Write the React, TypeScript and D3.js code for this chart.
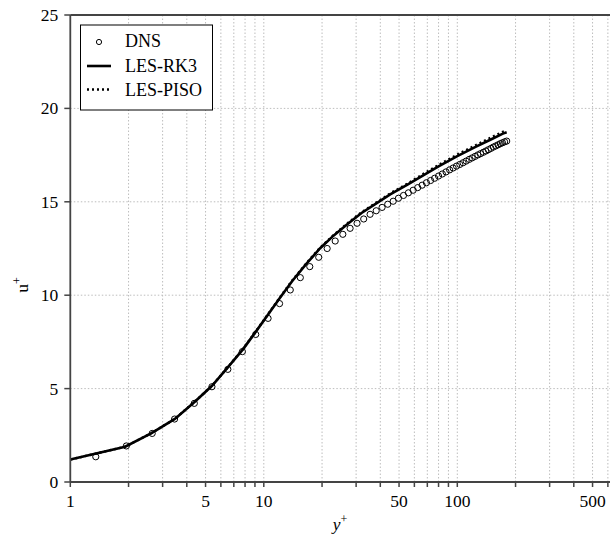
import React from "react";
import * as d3 from "d3";

// DNS data (y+, u+)
const dnsY = [1.354, 1.948, 2.65, 3.459, 4.374, 5.394, 6.52, 7.751, 9.085, 10.522, 12.061, 13.702, 15.442, 17.282, 19.22, 21.254, 23.384, 25.609, 27.926, 30.335, 32.835, 35.423, 38.098, 40.858, 43.702, 46.629, 49.636, 52.721, 55.883, 59.119, 62.429, 65.809, 69.258, 72.774, 76.355, 79.997, 83.7, 87.461, 91.278, 95.149, 99.07, 103.04, 107.057, 111.117, 115.219, 119.36, 123.537, 127.749, 131.992, 136.264, 140.562, 144.884, 149.227, 153.589, 157.966, 162.357, 166.758, 171.168, 175.583, 180.0];
const dnsU = [1.35, 1.93, 2.6, 3.37, 4.21, 5.1, 6.03, 6.98, 7.9, 8.76, 9.55, 10.28, 10.94, 11.53, 12.03, 12.5, 12.9, 13.26, 13.58, 13.85, 14.08, 14.33, 14.52, 14.7, 14.87, 15.03, 15.19, 15.34, 15.48, 15.62, 15.76, 15.89, 16.02, 16.14, 16.26, 16.38, 16.49, 16.6, 16.71, 16.81, 16.91, 17.0, 17.09, 17.18, 17.27, 17.35, 17.43, 17.51, 17.58, 17.65, 17.72, 17.79, 17.86, 17.93, 17.99, 18.05, 18.11, 18.16, 18.21, 18.25];

// LES-RK3
const rk3Y = [1.0, 1.92, 2.63, 3.47, 4.4, 5.4, 6.5, 7.8, 9.1, 10.5, 12.1, 14.0, 16.5, 19.5, 23, 27, 32, 38, 45, 55, 65, 80, 100, 125, 150, 172, 180];
const rk3U = [1.2, 1.89, 2.62, 3.38, 4.3, 5.15, 6.12, 7.1, 8.05, 8.95, 9.85, 10.75, 11.65, 12.5, 13.2, 13.8, 14.4, 14.9, 15.4, 15.9, 16.35, 16.9, 17.45, 17.95, 18.35, 18.65, 18.72];

// LES-PISO
const pisoY = [1.0, 1.92, 2.63, 3.47, 4.4, 5.4, 6.5, 7.8, 9.1, 10.5, 12.1, 14.0, 16.5, 19.5, 23, 27, 32, 38, 45, 55, 65, 80, 100, 125, 150, 172, 180];
const pisoU = [1.2, 1.89, 2.62, 3.38, 4.3, 5.16, 6.13, 7.12, 8.07, 8.97, 9.88, 10.78, 11.68, 12.53, 13.23, 13.84, 14.44, 14.95, 15.45, 15.96, 16.42, 16.97, 17.53, 18.04, 18.45, 18.75, 18.82];

const xTickLabels = [1, 5, 10, 50, 100, 500];
const xGridValues = [2, 3, 4, 5, 6, 7, 8, 9, 10, 20, 30, 40, 50, 60, 70, 80, 90, 100, 200, 300, 400, 500, 600, 700, 800, 900];
const yTicks = [0, 5, 10, 15, 20, 25];

const W = 610;
const H = 539;
const FONT = "'Liberation Serif', 'Times New Roman', serif";

export default function App() {
  const x = d3.scaleLog().domain([1, 1000]).range([70.3, 650.8]);
  const y = d3.scaleLinear().domain([0, 25]).range([482, 15]);
  const left = x(1);
  const bottom = y(0);
  const top = y(25);

  const line = d3
    .line<[number, number]>()
    .x((d) => x(d[0]))
    .y((d) => y(d[1]));

  const rk3 = rk3Y.map((v, i) => [v, rk3U[i]] as [number, number]);
  const piso = pisoY.map((v, i) => [v, pisoU[i]] as [number, number]);

  const axisColor = "#444";
  const gridColor = "#bdbdbd";

  return (
    <svg
      width={W}
      height={H}
      style={{ position: "fixed", left: 0, top: 0, background: "#fff" }}
      fontFamily={FONT}
    >
      <rect x={0} y={0} width={W} height={H} fill="#fff" />
      <defs>
        <clipPath id="plot">
          <rect x={left} y={top} width={W - left} height={bottom - top} />
        </clipPath>
      </defs>
      {/* grid */}
      {xGridValues.map((v) => (
        <line
          key={"gx" + v}
          x1={x(v)}
          x2={x(v)}
          y1={top}
          y2={bottom}
          stroke={gridColor}
          strokeWidth={1}
          strokeDasharray="1.5,2"
        />
      ))}
      {yTicks.slice(1, -1).map((v) => (
        <line
          key={"gy" + v}
          x1={left}
          x2={W}
          y1={y(v)}
          y2={y(v)}
          stroke={gridColor}
          strokeWidth={1}
          strokeDasharray="1.5,2"
        />
      ))}

      {/* data */}
      <g clipPath="url(#plot)">
        <path d={line(rk3) || ""} fill="none" stroke="#000" strokeWidth={2.6} />
        <path
          d={line(piso) || ""}
          fill="none"
          stroke="#000"
          strokeWidth={2.4}
          strokeDasharray="2,3"
        />
        {dnsY.map((v, i) => (
          <circle
            key={"c" + i}
            cx={x(v)}
            cy={y(dnsU[i])}
            r={3.1}
            fill="none"
            stroke="#000"
            strokeWidth={1}
          />
        ))}
      </g>

      {/* axes */}
      <line x1={left} x2={left} y1={top} y2={bottom} stroke={axisColor} strokeWidth={1.8} />
      <line x1={left} x2={W} y1={bottom} y2={bottom} stroke={axisColor} strokeWidth={1.8} />
      <line x1={left} x2={W} y1={top} y2={top} stroke={axisColor} strokeWidth={1.8} />

      {/* x ticks */}
      {[1, ...xGridValues].map((v) => (
        <line
          key={"tx" + v}
          x1={x(v)}
          x2={x(v)}
          y1={bottom}
          y2={bottom + 5}
          stroke={axisColor}
          strokeWidth={1.5}
        />
      ))}
      {xTickLabels.map((v) => (
        <text
          key={"lx" + v}
          x={x(v)}
          y={bottom + 25}
          textAnchor="middle"
          fontSize={17.5}
          fill="#000"
        >
          {v}
        </text>
      ))}

      {/* y ticks */}
      {yTicks.map((v) => (
        <g key={"ty" + v}>
          <line
            x1={left - 6}
            x2={left}
            y1={y(v)}
            y2={y(v)}
            stroke={axisColor}
            strokeWidth={1.5}
          />
          <text
            x={left - 12}
            y={y(v) + 6}
            textAnchor="end"
            fontSize={17.5}
            fill="#000"
          >
            {v}
          </text>
        </g>
      ))}

      {/* axis titles */}
      <text x={340} y={530} textAnchor="middle" fontSize={17.5} fill="#000">
        <tspan fontStyle="italic">y</tspan>
        <tspan fontSize={12} dy={-7}>+</tspan>
      </text>
      <text
        transform={`translate(28,285) rotate(-90)`}
        textAnchor="middle"
        fontSize={17.5}
        fill="#000"
      >
        <tspan>u</tspan>
        <tspan fontSize={12} dy={-7}>+</tspan>
      </text>

      {/* legend */}
      <g>
        <rect x={80.5} y={25} width={132} height={85} fill="#fff" stroke="#000" strokeWidth={1} />
        <circle cx={99} cy={42} r={2.6} fill="none" stroke="#000" strokeWidth={1} />
        <text x={125} y={47} fontSize={18} fill="#000">DNS</text>
        <line x1={87} x2={111} y1={66} y2={66} stroke="#000" strokeWidth={2.6} />
        <text x={125} y={72} fontSize={18} fill="#000">LES-RK3</text>
        <line x1={87} x2={111} y1={89.5} y2={89.5} stroke="#000" strokeWidth={2.4} strokeDasharray="2,3" />
        <text x={125} y={96} fontSize={18} fill="#000">LES-PISO</text>
      </g>
    </svg>
  );
}
